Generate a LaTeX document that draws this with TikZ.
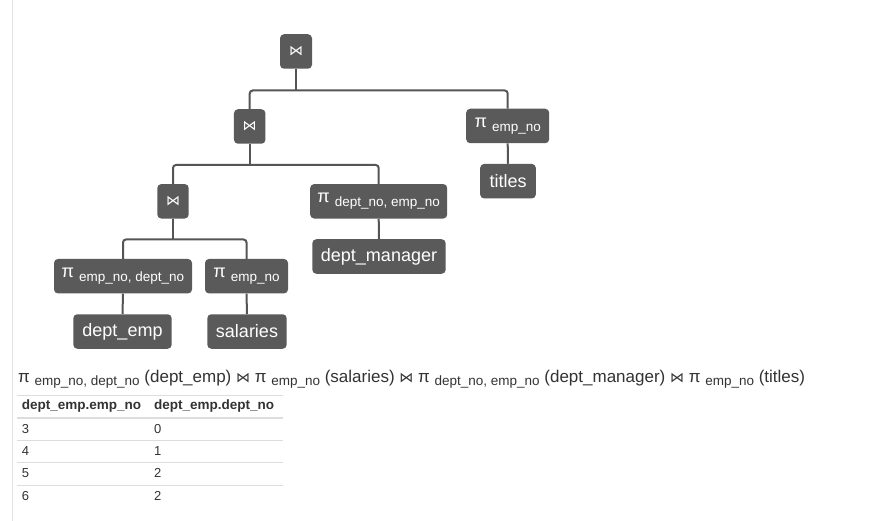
\documentclass[tikz,border=0pt]{standalone}
\usepackage{fontspec}
\setmainfont{Liberation Sans}
\newfontfamily\djv{DejaVu Sans}
\definecolor{boxfill}{HTML}{5A5A5A}
\definecolor{conncol}{HTML}{555555}
\definecolor{txtcol}{HTML}{333333}
\definecolor{rulecol}{HTML}{DDDDDD}
\definecolor{pagecol}{HTML}{E2E2E2}
\newcommand{\fs}[1]{\fontsize{#1}{#1}\selectfont}
\newcommand{\joinsym}{{\djv\fs{14}⋈}}
\newcommand{\projbox}[1]{\fs{18}π \raisebox{-4pt}{\fs{13.5}#1}}
\newcommand{\xsub}[1]{\raisebox{-3.5pt}{\fs{13.5}#1}}
\tikzset{
  opbox/.style={fill=boxfill, rounded corners=4pt, text=white, minimum height=34.5pt, inner sep=0pt, font=\fs{18}},
  conn/.style={draw=conncol, line width=2pt, rounded corners=3pt},
  tline/.style={draw=rulecol, line width=1pt},
}
\begin{document}
\begin{tikzpicture}[x=1pt,y=-1pt]
\useasboundingbox (0,0) rectangle (896,521);
\fill[white] (0,0) rectangle (896,521);
\draw[pagecol, line width=1pt] (12.5,0) -- (12.5,521);

% nodes
\node[opbox, minimum width=32pt]  (j1) at (296,51.5)  {\joinsym};
\node[opbox, minimum width=31.5pt](j2) at (249.7,126.5) {\joinsym};
\node[opbox, minimum width=83pt]  (p1) at (507.7,126) {\projbox{emp\_no}};
\node[opbox, minimum width=55.7pt](ti) at (508,181.2) {titles};
\node[opbox, minimum width=31.4pt](j3) at (173,201.3) {\joinsym};
\node[opbox, minimum width=137pt] (p2) at (378.7,201.3) {\projbox{dept\_no, emp\_no}};
\node[opbox, minimum width=133.4pt](dm) at (379,256.5) {dept\_manager};
\node[opbox, minimum width=138pt] (p3) at (123,276.2) {\projbox{emp\_no, dept\_no}};
\node[opbox, minimum width=83pt]  (p4) at (246.5,276.2) {\projbox{emp\_no}};
\node[opbox, minimum width=98.4pt](de) at (122.5,331.5) {dept\_emp};
\node[opbox, minimum width=79.4pt](sa) at (247,331.5) {salaries};

% connector levels
\coordinate (h1) at (0,90.5);
\coordinate (h2) at (0,165);
\coordinate (h3) at (0,239.5);

\draw[conn] (j1.south) -- (j1.south |- h1);
\draw[conn] (j2.north) -- (j2.north |- h1) -- (p1.north |- h1) -- (p1.north);
\draw[conn] (p1.south) -- (ti.north);
\draw[conn] (j2.south) -- (j2.south |- h2);
\draw[conn] (j3.north) -- (j3.north |- h2) -- (p2.north |- h2) -- (p2.north);
\draw[conn] (p2.south) -- (dm.north);
\draw[conn] (j3.south) -- (j3.south |- h3);
\draw[conn] (p3.north) -- (p3.north |- h3) -- (p4.north |- h3) -- (p4.north);
\draw[conn] (p3.south) -- (de.north);
\draw[conn] (p4.south) -- (sa.north);

% expression
\node[anchor=base west, inner sep=0pt, text=txtcol, font=\fs{17}] (expr) at (18,382)
 {π \xsub{emp\_no, dept\_no} (dept\_emp) \joinsym{} π \xsub{emp\_no} (salaries) \joinsym{} π \xsub{dept\_no, emp\_no} (dept\_manager) \joinsym{} π \xsub{emp\_no} (titles)};

% table
\draw[tline] (17,395) -- (283,395);
\draw[rulecol, line width=2pt] (17,418.3) -- (283,418.3);
\draw[tline] (17,440.7) -- (283,440.7);
\draw[tline] (17,462.7) -- (283,462.7);
\draw[tline] (17,485) -- (283,485);
\node[anchor=base west, inner sep=0pt, text=txtcol, font=\bfseries\fs{13.5}] (th1) at (21.7,409.5) {dept\_emp.emp\_no};
\node[anchor=base west, inner sep=0pt, text=txtcol, font=\bfseries\fs{13.5}] (th2) at (154,409.5) {dept\_emp.dept\_no};
\foreach \a/\b/\y in {3/0/433.5, 4/1/455.7, 5/2/477.8, 6/2/500} {
  \node[anchor=base west, inner sep=0pt, text=txtcol, font=\fs{13}] at (21.7,\y) {\a};
  \node[anchor=base west, inner sep=0pt, text=txtcol, font=\fs{13}] at (154,\y) {\b};
}
\end{tikzpicture}
\end{document}
